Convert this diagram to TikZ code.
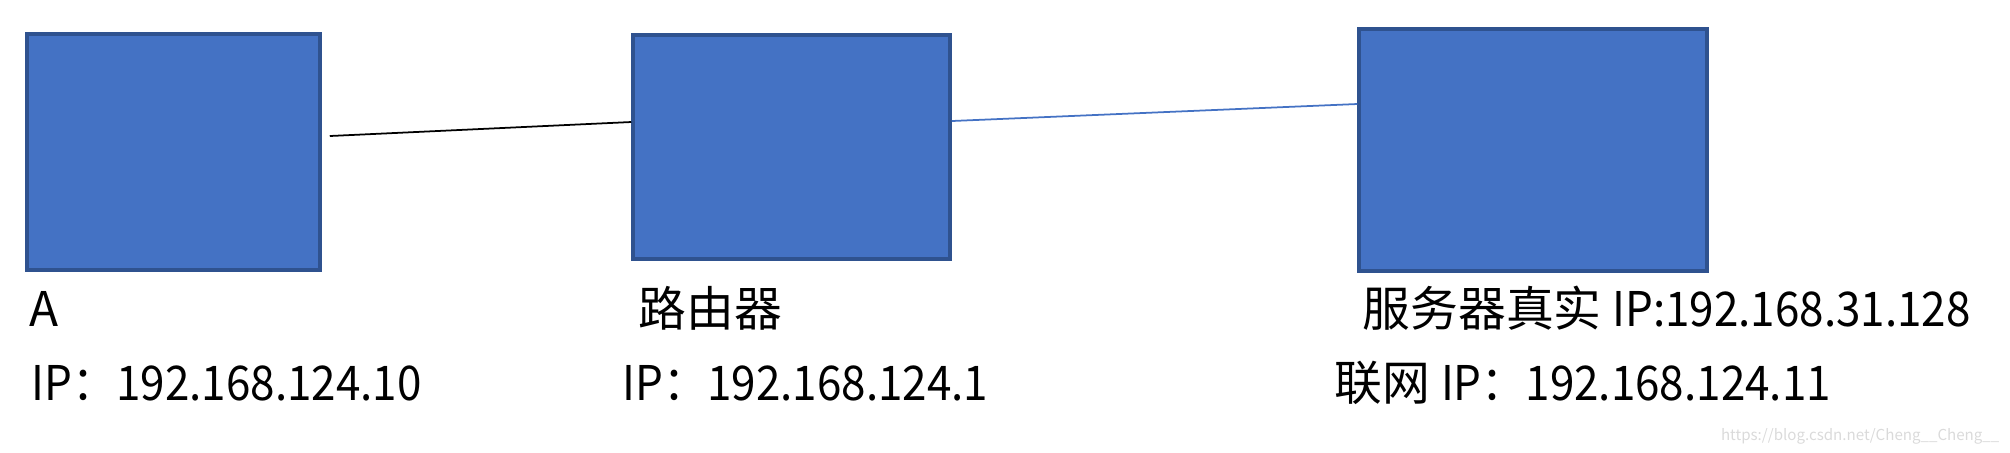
\documentclass[tikz,border=0pt]{standalone}
\usepackage{fontspec}
\setmainfont{Noto Sans CJK SC}
\newfontfamily\ipfont{Noto Sans CJK SC}[FakeStretch=0.92]
\newcommand{\addr}[1]{{\ipfont #1}}
\usetikzlibrary{positioning}
\definecolor{boxblue}{HTML}{4472C4}
\definecolor{boxedge}{HTML}{2F528F}
\definecolor{markgray}{HTML}{DADADA}

\begin{document}
\begin{tikzpicture}[
  host/.style={rectangle, draw=boxedge, fill=boxblue, line width=1pt, inner sep=0pt},
  info/.style={anchor=base west, inner sep=0pt, font=\fontsize{13.6pt}{16pt}\selectfont},
  link/.style={line width=0.5pt}
]
\useasboundingbox (0,0) rectangle (20.1,-4.52);

% hosts
\node[host, minimum width=2.93cm, minimum height=2.36cm] (pcA) at (1.735,-1.52) {};
\node[host, minimum width=3.17cm, minimum height=2.24cm] (router) at (7.915,-1.47) {};
\node[host, minimum width=3.48cm, minimum height=2.42cm] (server) at (15.33,-1.50) {};

% links
\draw[link, black] ([shift={(0.08,0.16)}]pcA.east) -- ([yshift=0.25cm]router.west);
\draw[link, boxblue] ([yshift=0.26cm]router.east) -- ([yshift=0.46cm]server.west);

% labels
\node[info] (nameA) at (0.29,-3.26) {A};
\node[info] (ipA) at (0.31,-4.00) {\addr{IP：192.168.124.10}};
\node[info] (nameR) at (6.38,-3.26) {路由器};
\node[info] (ipR) at (6.22,-4.00) {\addr{IP：192.168.124.1}};
\node[info] (nameS) at (13.62,-3.26) {服务器真实 \addr{IP:192.168.31.128}};
\node[info] (ipS) at (13.34,-4.00) {联网 \addr{IP：192.168.124.11}};

\node[anchor=base east, inner sep=0pt, text=markgray, font=\fontsize{4.3pt}{5pt}\selectfont] (mark) at (20.0,-4.40) {https://blog.csdn.net/Cheng\_\_Cheng\_\_};
\end{tikzpicture}
\end{document}
